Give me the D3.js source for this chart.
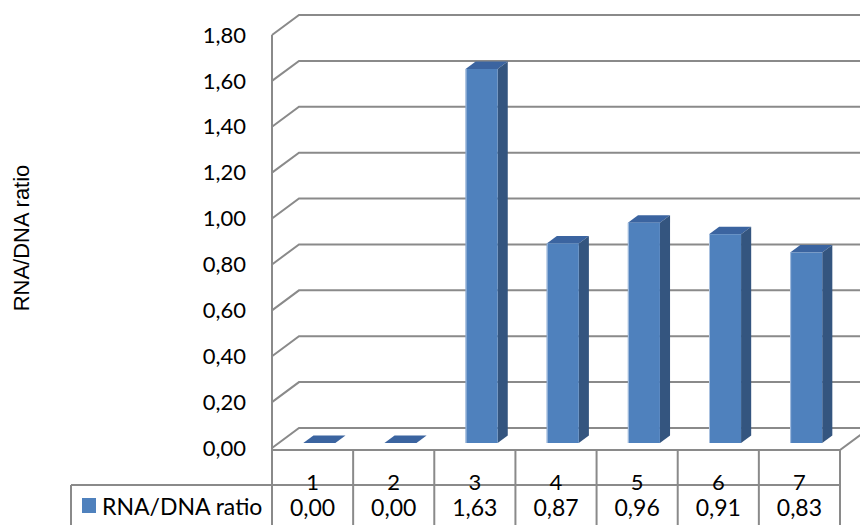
<!DOCTYPE html>
<html>
<head>
<meta charset="utf-8">
<script src="https://cdn.jsdelivr.net/npm/d3@7"></script>
<style>
  body { margin: 0; background: #fff; }
  svg { display: block; font-family: Lato, "Open Sans", sans-serif; }
  .ytitle { font-family: "Liberation Sans", Arial, sans-serif; }
</style>
</head>
<body>
<script>
// data
var categories = ["1", "2", "3", "4", "5", "6", "7"];
var values = [0.00, 0.00, 1.63, 0.87, 0.96, 0.91, 0.83];
var valueLabels = ["0,00", "0,00", "1,63", "0,87", "0,96", "0,91", "0,83"];
var yTicks = [0, 0.2, 0.4, 0.6, 0.8, 1.0, 1.2, 1.4, 1.6, 1.8];
var seriesName = "RNA/DNA ratio";

var W = 860, H = 525;
var svg = d3.select("body").append("svg").attr("width", W).attr("height", H);

var x = d3.scaleBand().domain(categories).range([272, 840]).paddingInner(0).paddingOuter(0);
var y = d3.scaleLinear().domain([0, 1.8]).range([448, 35]);

// depth of the 3d box
var DX = 27, DY = -20;
var gridCol = "#8a8a8a";
var fmt = function(v){ return d3.format(".2f")(v).replace(".", ","); };

// back wall / side wall gridlines
var grid = svg.append("g").attr("stroke", gridCol).attr("stroke-width", 2).attr("fill", "none");
yTicks.forEach(function(t){
  var yy = y(t);
  grid.append("path").attr("d", "M272," + yy + "L" + (272 + DX) + "," + (yy + DY) + "L" + (W + 5) + "," + (yy + DY));
});
grid.append("line").attr("x1", 272).attr("x2", 272).attr("y1", y(1.8)).attr("y2", 450);
// floor front and right edge
grid.append("path").attr("d", "M272,450L840,450L" + (840 + DX) + "," + (450 + DY));

// y tick labels
svg.append("g").selectAll("text").data(yTicks).join("text")
  .attr("x", 246).attr("y", function(d){ return y(d); })
  .attr("dy", "0.35em").attr("text-anchor", "end")
  .attr("font-size", 22).attr("fill", "#000")
  .text(fmt);

// y axis title
svg.append("text").attr("class", "ytitle")
  .attr("transform", "translate(29,238) rotate(-90)")
  .attr("text-anchor", "middle").attr("font-size", 22).attr("fill", "#000")
  .text(seriesName);

// bars
var f0 = 0.25, f1 = 0.625;
var bw = x.bandwidth() * 0.395;
var bars = svg.append("g");
categories.forEach(function(c, i){
  var v = values[i];
  var cx = x(c) + x.bandwidth() / 2 + DX * f0;
  var x0 = cx - bw / 2, x1 = cx + bw / 2;
  var yb = y(0) + DY * f0, yt = y(v) + DY * f0;
  var ddx = DX * (f1 - f0), ddy = DY * (f1 - f0);
  // top
  bars.append("path")
    .attr("d", "M" + x0 + "," + yt + "L" + (x0 + ddx) + "," + (yt + ddy) + "L" + (x1 + ddx) + "," + (yt + ddy) + "L" + x1 + "," + yt + "Z")
    .attr("fill", "#3b64a0");
  if (v > 0) {
    // side
    bars.append("path")
      .attr("d", "M" + x1 + "," + yt + "L" + (x1 + ddx) + "," + (yt + ddy) + "L" + (x1 + ddx) + "," + (yb + ddy) + "L" + x1 + "," + yb + "Z")
      .attr("fill", "#34557f");
    // front
    bars.append("rect").attr("x", x0).attr("y", yt).attr("width", bw).attr("height", yb - yt)
      .attr("fill", "#4f81bd");
    bars.append("line").attr("x1", x0 + 0.5).attr("x2", x0 + 0.5).attr("y1", yt).attr("y2", yb)
      .attr("stroke", "#a9c1e0").attr("stroke-width", 1);
  }
});

// data table
var tbl = svg.append("g").attr("stroke", gridCol).attr("stroke-width", 2);
tbl.append("line").attr("x1", 71).attr("x2", 840).attr("y1", 485).attr("y2", 485);
tbl.append("line").attr("x1", 71).attr("x2", 71).attr("y1", 485).attr("y2", H);
categories.forEach(function(c){
  tbl.append("line").attr("x1", x(c)).attr("x2", x(c)).attr("y1", 450).attr("y2", H);
});
tbl.append("line").attr("x1", 840).attr("x2", 840).attr("y1", 450).attr("y2", H);

svg.append("g").selectAll("text").data(categories).join("text")
  .attr("x", function(d){ return x(d) + x.bandwidth() / 2; })
  .attr("y", 490).attr("text-anchor", "middle").attr("font-size", 22)
  .text(function(d){ return d; });

svg.append("g").selectAll("text").data(valueLabels).join("text")
  .attr("x", function(d, i){ return x(categories[i]) + x.bandwidth() / 2; })
  .attr("y", 516).attr("text-anchor", "middle").attr("font-size", 23)
  .text(function(d){ return d; });

// legend key in the table
svg.append("rect").attr("x", 82).attr("y", 498).attr("width", 14).attr("height", 15).attr("fill", "#4f81bd");
svg.append("text").attr("x", 102).attr("y", 515).attr("font-size", 23).text(seriesName);
</script>
</body>
</html>
